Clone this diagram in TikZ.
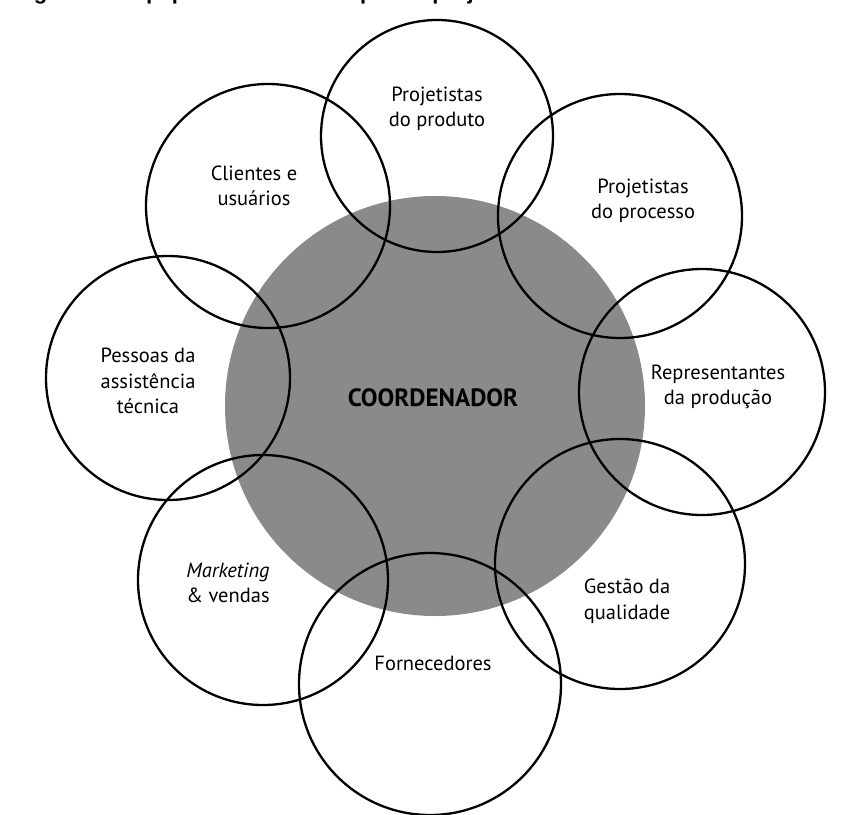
\documentclass[tikz,border=0pt]{standalone}
\usepackage{fontspec}
\setmainfont{PT Sans}
\newfontfamily\captionfont{Liberation Sans}
\definecolor{coordgray}{RGB}{138,138,138}
\begin{document}
\begin{tikzpicture}[x=1pt,y=-1pt,
  member/.style={circle,draw=black,line width=2.3pt,inner sep=0pt,minimum size=#1},
  hub/.style={circle,fill=coordgray,draw=none,inner sep=0pt,minimum size=#1},
  lbl/.style={align=center,font=\fontsize{20.5}{25.5}\selectfont,inner sep=0pt},
  hublbl/.style={font=\fontsize{25}{28}\selectfont\bfseries,inner sep=0pt}]
\useasboundingbox (0,0) rectangle (864,814);
\fill[white] (0,0) rectangle (864,814);

% caption line, only its lower part falls inside the page
\begin{scope}
  \clip (0,0) rectangle (864,20);
  \node[anchor=base west,inner sep=0pt,font=\captionfont\fontsize{22}{26}\selectfont\bfseries]
    (caption) at (14,-0.5) {Figura 3.4 Equipe multifuncional para o projeto};
\end{scope}

% coordinator in the middle
\node[hub=420pt] (hub) at (435,406) {};

% team members around the coordinator
\node[member=232pt] (prod)  at (437,136) {};
\node[member=244pt] (cli)   at (268,206) {};
\node[member=244pt] (proc)  at (620,216) {};
\node[member=244pt] (ast)   at (168,378) {};
\node[member=246pt] (rep)   at (702,392) {};
\node[member=250pt] (mkt)   at (263,580) {};
\node[member=250pt] (qual)  at (620,564) {};
\node[member=262pt] (forn)  at (430,684) {};

% labels
\node[hublbl] (hubtxt) at (433,398) {COORDENADOR};
\node[lbl] (prodtxt) at (437,109) {Projetistas\\do produto};
\node[lbl] (clitxt)  at (254,186) {Clientes e\\usuários};
\node[lbl] (proctxt) at (643,201) {Projetistas\\do processo};
\node[lbl] (asttxt)  at (148,381) {Pessoas da\\assistência\\técnica};
\node[lbl] (reptxt)  at (718,387) {Representantes\\da produção};
\node[lbl] (mkttxt)  at (228,583) {\textit{Marketing}\\\& vendas};
\node[lbl] (qualtxt) at (627,601) {Gestão da\\qualidade};
\node[lbl] (forntxt) at (433,663) {Fornecedores};
\end{tikzpicture}
\end{document}
